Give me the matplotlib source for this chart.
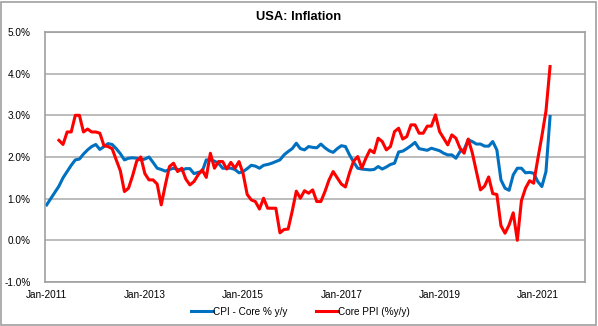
import numpy as np
import matplotlib
matplotlib.use("Agg")
import matplotlib.pyplot as plt
from matplotlib.patches import Rectangle

plt.rcParams['font.family'] = ['Liberation Sans', 'DejaVu Sans']

# monthly data, Jan-2011 .. Apr-2021
cpi_core = [
    0.85, 1.0, 1.15, 1.3, 1.5, 1.65, 1.8, 1.93, 1.95, 2.07, 2.17, 2.25,
    2.3, 2.18, 2.25, 2.32, 2.3, 2.2, 2.08, 1.93, 1.97, 1.98, 1.97, 1.93,
    1.95, 2.0, 1.87, 1.73, 1.7, 1.66, 1.7, 1.73, 1.7, 1.68, 1.72, 1.72,
    1.6, 1.63, 1.65, 1.93, 1.93, 1.9, 1.85, 1.73, 1.73, 1.73, 1.7, 1.62,
    1.65, 1.72, 1.8, 1.78, 1.73, 1.8, 1.82, 1.85, 1.89, 1.93, 2.05, 2.13,
    2.2, 2.33, 2.2, 2.17, 2.25, 2.23, 2.22, 2.31, 2.22, 2.15, 2.11, 2.2,
    2.27, 2.25, 2.05, 1.88, 1.73, 1.71, 1.7, 1.69, 1.7, 1.77, 1.71, 1.76,
    1.82, 1.85, 2.12, 2.14, 2.2, 2.27, 2.35, 2.2, 2.18, 2.16, 2.21, 2.18,
    2.15, 2.09, 2.05, 2.05, 1.97, 2.13, 2.18, 2.41, 2.37, 2.31, 2.31, 2.26,
    2.26, 2.37, 2.17, 1.45, 1.25, 1.2, 1.57, 1.73, 1.73, 1.62, 1.63, 1.61,
    1.41, 1.29, 1.65, 2.97,
]

# Apr-2011 .. Apr-2021
ppi_core = [
    2.4, 2.3, 2.6, 2.6, 3.0, 3.0, 2.6, 2.67, 2.6,
    2.6, 2.57, 2.27, 2.25, 2.2, 1.93, 1.67, 1.17, 1.25, 1.55, 1.9, 2.0,
    1.6, 1.45, 1.45, 1.35, 0.85, 1.33, 1.77, 1.85, 1.65, 1.73, 1.47, 1.33,
    1.41, 1.57, 1.69, 1.51, 2.09, 1.73, 1.89, 1.89, 1.71, 1.87, 1.73, 1.89,
    1.6, 1.1, 0.97, 0.93, 0.75, 1.01, 0.77, 0.77, 0.77, 0.18, 0.26, 0.27,
    0.7, 1.18, 1.01, 1.19, 1.13, 1.21, 0.93, 0.93, 1.17, 1.45, 1.65, 1.5,
    1.35, 1.28, 1.62, 1.9, 2.01, 1.73, 1.97, 2.17, 2.1, 2.45, 2.37, 2.17,
    2.25, 2.61, 2.69, 2.43, 2.49, 2.77, 2.77, 2.57, 2.57, 2.74, 2.74, 3.01,
    2.61, 2.45, 2.29, 2.53, 2.45, 2.21, 2.09, 2.43, 2.1, 1.65, 1.21, 1.3,
    1.52, 1.12, 1.1, 0.35, 0.17, 0.37, 0.66, 0.0, 0.95, 1.25, 1.43, 1.37,
    1.95, 2.5, 3.1, 4.17,
]
ppi_start = 3

tick_months = [0, 24, 48, 72, 96, 120]
tick_labels = ['Jan-2011', 'Jan-2013', 'Jan-2015', 'Jan-2017', 'Jan-2019', 'Jan-2021']
y_ticks = [-1, 0, 1, 2, 3, 4, 5]

fig = plt.figure(figsize=(5.98, 3.26), dpi=100)
fig.patches.append(Rectangle((0.002, 0.003), 0.995, 0.992, transform=fig.transFigure,
                             fill=False, edgecolor='#a0a0a0', linewidth=1.2))

ax = fig.add_axes([0.0746, 0.135, 0.9034, 0.767])

x_cpi = np.arange(len(cpi_core))
x_ppi = np.arange(len(ppi_core)) + ppi_start
ax.plot(x_cpi, cpi_core, color='#0070C0', lw=2.2, label='CPI - Core % y/y', solid_joinstyle='round')
ax.plot(x_ppi, ppi_core, color='#FF0000', lw=2.2, label='Core PPI (%y/y)', solid_joinstyle='round')

ax.set_xlim(-0.5, 131.5)
ax.set_ylim(-1, 5)
ax.set_yticks(y_ticks)
ax.set_yticklabels(['%.1f%%' % v for v in y_ticks], fontsize=7.2)
ax.set_xticks(tick_months)
ax.set_xticklabels(tick_labels, fontsize=7.2)
ax.tick_params(length=0)
ax.tick_params(axis='y', pad=10)
ax.tick_params(axis='x', pad=6)
ax.grid(axis='y', color='#b0b0b0', lw=1.2)
ax.set_axisbelow(True)
for s in ax.spines.values():
    s.set_color('#a0a0a0')
    s.set_linewidth(1.2)

fig.suptitle('USA: Inflation', fontsize=9.3, fontweight='bold', y=0.965)

fig.legend(loc='center', bbox_to_anchor=(0.502, 0.043), ncol=2, frameon=False,
           fontsize=7.2, handlelength=2.2, handletextpad=0.05, columnspacing=2.8)

fig.savefig('out.png', dpi=100)
